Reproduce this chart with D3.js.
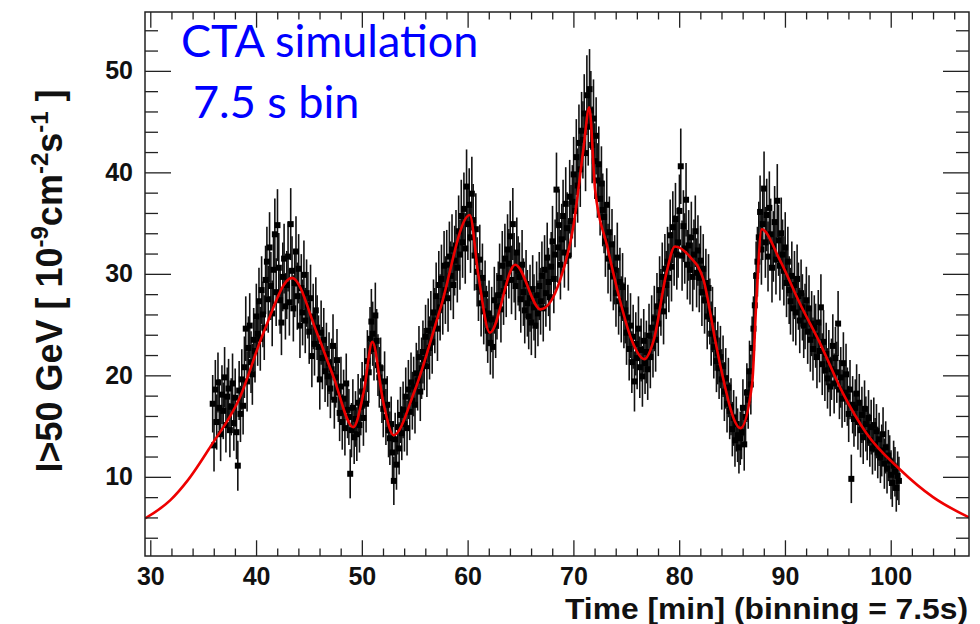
<!DOCTYPE html>
<html><head><meta charset="utf-8">
<script src="https://cdn.jsdelivr.net/npm/d3@7/dist/d3.min.js"></script>
<style>
  body { margin: 0; background: #fff; }
  svg { display: block; }
</style></head>
<body>
<svg id="chart" width="980" height="624"></svg>
<script>
// ---- light curve: integral flux above 50 GeV, one value per 7.5 s bin ----
const binMinutes = 7.5 / 60;
const firstBinTime = 35.9;
const flux = [
  17.2, 13.1, 18.6, 15.4, 19.3, 16.8, 14.2, 18.1,
  16.5, 19.8, 15.1, 17.9, 18.7, 14.6, 16.9, 19.2,
  15.3, 17.8, 14.4, 11.1, 18.5, 16.2, 19.6, 17.0,
  20.8, 24.6, 19.4, 22.7, 24.9, 21.3, 20.1, 23.5,
  22.4, 25.8, 24.1, 27.3, 23.6, 28.4, 26.0, 24.7,
  29.4, 31.2, 27.5, 32.6, 28.8, 26.1, 30.4, 33.9,
  28.2, 34.8, 30.6, 27.4, 25.2, 29.7, 31.5, 26.8,
  28.9, 31.7, 27.2, 34.9, 30.3, 26.6, 29.1, 32.2,
  27.8, 30.5, 24.9, 28.6, 26.2, 29.9, 25.4, 28.1,
  26.9, 24.3, 27.6, 21.9, 25.8, 23.1, 26.4, 24.7,
  22.8, 19.6, 24.2, 21.7, 23.5, 20.4, 22.1, 19.9,
  21.2, 18.7, 20.6, 22.9, 17.6, 19.8, 21.5, 18.3,
  16.3, 18.9, 15.4, 17.7, 14.8, 19.2, 16.6, 15.9,
  10.3, 14.6, 16.8, 13.9, 15.7, 14.2, 17.3, 15.1,
  16.9, 18.4, 15.8, 19.7, 17.2, 21.4, 20.3, 23.6,
  25.3, 24.1, 22.6, 25.9, 23.4, 21.0, 19.8, 20.7,
  18.2, 16.7, 19.4, 15.9, 17.1, 14.6, 13.8, 15.2,
  12.4,  9.6, 13.7, 11.2, 14.9, 12.8, 16.1, 14.3,
  16.6, 15.2, 17.9, 14.8, 18.6, 16.4, 19.3, 17.5,
  18.9, 17.1, 20.2, 19.5, 21.8, 18.4, 20.7, 22.3,
  21.6, 23.8, 20.9, 24.4, 22.7, 25.1, 23.3, 26.2,
  25.4, 27.8, 24.6, 28.9, 26.7, 29.5, 27.3, 30.8,
  28.4, 30.9, 27.6, 31.7, 29.8, 32.4, 28.9, 31.3,
  32.8, 30.6, 34.2, 31.9, 35.7, 33.1, 36.4, 32.5,
  38.6, 34.9, 36.8, 33.6, 37.9, 35.3, 31.8, 34.4,
  30.2, 28.7, 31.4, 27.1, 29.6, 26.3, 28.0, 25.6,
  24.4, 26.1, 23.2, 25.5, 22.8, 27.4, 24.9, 26.8,
  27.9, 29.6, 26.5, 30.8, 28.3, 31.5, 29.1, 32.4,
  31.0, 33.7, 29.4, 34.9, 30.6, 28.8, 32.1, 30.3,
  29.7, 27.5, 30.9, 28.2, 26.4, 29.0, 27.1, 25.8,
  27.6, 25.2, 28.5, 26.7, 24.9, 27.9, 26.1, 28.8,
  27.3, 29.8, 26.6, 30.4, 28.1, 31.6, 29.2, 27.7,
  30.7, 33.2, 29.5, 31.9, 38.3, 32.6, 34.8, 30.9,
  33.4, 35.7, 32.1, 36.9, 34.5, 31.8, 37.6, 35.2,
  37.1, 39.8, 36.2, 41.5, 38.7, 42.9, 40.3, 44.1,
  43.2, 45.8, 41.9, 47.6, 44.5, 48.2, 46.1, 42.7,
  45.3, 41.1, 43.6, 39.2, 40.8, 37.4, 38.9, 36.3,
  35.6, 33.2, 36.8, 31.5, 34.1, 30.7, 32.9, 29.8,
  30.4, 28.1, 31.6, 27.3, 29.2, 26.5, 28.7, 25.9,
  26.4, 24.2, 25.7, 22.6, 24.9, 21.3, 23.8, 19.4,
  23.1, 21.7, 24.6, 20.8, 22.5, 19.9, 23.4, 21.2,
  22.3, 20.6, 23.9, 21.8, 24.7, 22.9, 25.6, 23.5,
  26.8, 25.1, 28.4, 27.2, 29.7, 26.3, 30.5, 28.9,
  31.2, 29.6, 33.8, 30.7, 34.6, 32.3, 35.4, 31.9,
  33.1, 36.2, 40.6, 31.8, 34.7, 32.5, 37.3, 30.9,
  32.8, 30.4, 33.6, 29.7, 31.9, 34.2, 30.1, 32.3,
  29.6, 31.3, 28.2, 30.5, 27.4, 29.1, 25.8, 28.6,
  26.3, 24.1, 25.5, 22.8, 23.6, 21.4, 22.2, 20.7,
  21.8, 19.6, 20.9, 18.4, 19.7, 17.2, 18.8, 16.5,
  16.9, 14.7, 15.8, 13.6, 15.2, 14.1, 12.9, 13.8,
  14.4, 16.8, 13.2, 15.9, 18.3, 17.6, 20.4, 19.1,
  22.7, 24.6, 26.9, 29.8, 31.2, 33.6, 36.1, 32.4,
  34.9, 38.4, 33.1, 35.8, 31.7, 36.5, 33.9, 30.6,
  32.7, 35.1, 31.4, 37.2, 33.3, 30.8, 34.0, 31.9,
  30.3, 32.6, 29.1, 31.2, 28.4, 27.3, 29.8, 26.6,
  28.9, 26.2, 29.5, 27.8, 25.4, 28.1, 26.7, 24.9,
  25.8, 27.4, 24.3, 26.6, 23.5, 25.1, 22.6, 24.7,
  23.9, 21.8, 25.2, 22.4, 26.7, 21.1, 23.3, 20.5,
  22.1, 19.7, 21.4, 18.9, 20.6, 22.9, 19.2, 21.7,
  20.3, 25.1, 18.6, 19.8, 17.7, 21.2, 18.3, 20.1,
  17.9, 16.2, 18.6,  9.8, 17.1, 15.7, 16.8, 18.2,
  15.4, 17.3, 14.6, 16.1, 13.9, 16.7, 15.2, 14.3,
  15.8, 13.6, 14.9, 12.8, 15.1, 13.2, 14.5, 12.4,
  13.7, 11.9, 12.6, 14.2, 11.3, 12.9, 10.8, 12.1,
  11.6, 10.2,  9.4, 11.1, 10.5,  8.9, 10.1,  9.6
];

// statistical error half-width versus flux level
const errFluxLevel  = [10, 20, 30, 40, 50];
const errHalfWidth  = [2.4, 3.0, 3.4, 3.7, 4.0];

// fitted flare model (red line), sampled at its turning points
const modelTime = [29.5, 31.9, 33.5, 35.7, 38.5, 40.7, 43.4, 45.75, 47.3, 49.2, 50.2, 51.0, 52.0, 53.0, 55.0, 57.4,
                   60.2, 61.0, 62.1, 64.5, 66.9, 68.75, 70.0, 70.95, 71.5, 72.05, 73.2, 74.4, 75.5, 76.7, 77.6,
                   78.8, 79.6, 81.0, 82.3, 83.4, 83.9, 85.8, 86.9, 87.3, 87.8, 89.5, 91.4, 93.3, 95.5, 97.7,
                   100.9, 104.0, 107.4];
const modelFlux = [5.9, 7.7, 9.6, 13.0, 17.9, 24.2, 29.6, 24.2, 19.9, 14.9, 18.5, 23.3, 17.5, 14.1, 18.5, 26.5,
                   35.8, 30.0, 24.2, 30.9, 26.5, 29.4, 34.7, 42.3, 46.4, 38.3, 32.7, 27.4, 23.5, 21.6, 23.5,
                   30.1, 32.7, 31.7, 29.4, 23.5, 20.9, 14.8, 19.2, 27.4, 34.4, 31.4, 27.1, 23.2, 18.2, 14.3,
                   10.7, 8.0, 6.0];

// axes
const xDomain = [29.5, 107.4];
const yDomain = [2.2, 55.8];
const xMajorTicks = [30, 40, 50, 60, 70, 80, 90, 100];
const xMinorTicks = d3.range(30, 108, 2).filter(v => v % 10 !== 0);
const yMajorTicks = [10, 20, 30, 40, 50];
const yMinorTicks = d3.range(4, 56, 2).filter(v => v % 10 !== 0);

const xTitle = "Time [min] (binning = 7.5s)";
const noteLines = ["CTA simulation", "7.5 s bin"];

// ---- layout ----
const frame = { left: 145, right: 969, top: 12, bottom: 556 };
const svg = d3.select("#chart");
svg.append("rect").attr("width", 980).attr("height", 624).attr("fill", "#fff");

const x = d3.scaleLinear().domain(xDomain).range([frame.left, frame.right]);
const y = d3.scaleLinear().domain(yDomain).range([frame.bottom, frame.top]);
const errScale = d3.scaleLinear().domain(errFluxLevel).range(errHalfWidth);

const points = flux.map((v, i) => ({ t: firstBinTime + i * binMinutes, v, e: errScale(v) }));

svg.append("defs").append("clipPath").attr("id", "plotClip")
  .append("rect").attr("x", frame.left).attr("y", frame.top)
  .attr("width", frame.right - frame.left).attr("height", frame.bottom - frame.top);

const plot = svg.append("g").attr("clip-path", "url(#plotClip)");

// error bars
plot.append("g").selectAll("line").data(points).join("line")
  .attr("x1", d => x(d.t)).attr("x2", d => x(d.t))
  .attr("y1", d => y(d.v - d.e)).attr("y2", d => y(d.v + d.e))
  .attr("stroke", "#111").attr("stroke-width", 1.6);

// markers
const ms = 6;
plot.append("g").selectAll("rect").data(points).join("rect")
  .attr("x", d => x(d.t) - ms / 2).attr("y", d => y(d.v) - ms / 2)
  .attr("width", ms).attr("height", ms).attr("fill", "#000");

// model curve
const model = modelTime.map((t, i) => ({ t, v: modelFlux[i] }));
plot.append("path").datum(model)
  .attr("d", d3.line().x(d => x(d.t)).y(d => y(d.v)).curve(d3.curveMonotoneX))
  .attr("fill", "none").attr("stroke", "#ee0000").attr("stroke-width", 2.6)
  .attr("stroke-linejoin", "round");

// ---- axes, ticks on all four sides pointing inwards ----
const axisColor = "#222";
const labelFont = "'Liberation Sans', Arial, Helvetica, sans-serif";
function styleAxis(g) {
  g.select(".domain").remove();
  g.selectAll(".tick line").attr("stroke", axisColor).attr("stroke-width", 1.3);
  g.attr("font-family", labelFont).attr("font-size", 25).attr("font-weight", "bold");
  g.selectAll(".tick text").attr("fill", "#111");
}
const xMajLen = 15.7, xMinLen = 7.5, yMajLen = 26, yMinLen = 13;

svg.append("g").attr("transform", `translate(0,${frame.bottom})`)
  .call(d3.axisBottom(x).tickValues(xMajorTicks).tickSize(-xMajLen).tickPadding(11).tickFormat(d3.format("d")))
  .call(styleAxis);
svg.append("g").attr("transform", `translate(0,${frame.bottom})`)
  .call(d3.axisBottom(x).tickValues(xMinorTicks).tickSize(-xMinLen).tickFormat(""))
  .call(styleAxis);
svg.append("g").attr("transform", `translate(0,${frame.top})`)
  .call(d3.axisTop(x).tickValues(xMajorTicks).tickSize(-xMajLen).tickFormat(""))
  .call(styleAxis);
svg.append("g").attr("transform", `translate(0,${frame.top})`)
  .call(d3.axisTop(x).tickValues(xMinorTicks).tickSize(-xMinLen).tickFormat(""))
  .call(styleAxis);

svg.append("g").attr("transform", `translate(${frame.left},0)`)
  .call(d3.axisLeft(y).tickValues(yMajorTicks).tickSize(-yMajLen).tickPadding(12).tickFormat(d3.format("d")))
  .call(styleAxis);
svg.append("g").attr("transform", `translate(${frame.left},0)`)
  .call(d3.axisLeft(y).tickValues(yMinorTicks).tickSize(-yMinLen).tickFormat(""))
  .call(styleAxis);
svg.append("g").attr("transform", `translate(${frame.right},0)`)
  .call(d3.axisRight(y).tickValues(yMajorTicks).tickSize(-yMajLen).tickFormat(""))
  .call(styleAxis);
svg.append("g").attr("transform", `translate(${frame.right},0)`)
  .call(d3.axisRight(y).tickValues(yMinorTicks).tickSize(-yMinLen).tickFormat(""))
  .call(styleAxis);

// frame
svg.append("rect")
  .attr("x", frame.left).attr("y", frame.top)
  .attr("width", frame.right - frame.left).attr("height", frame.bottom - frame.top)
  .attr("fill", "none").attr("stroke", axisColor).attr("stroke-width", 1.5);

// ---- titles ----
svg.append("text")
  .attr("x", 968).attr("y", 619).attr("text-anchor", "end")
  .attr("font-family", labelFont).attr("font-size", 30).attr("font-weight", "bold").attr("fill", "#111")
  .attr("textLength", 403).attr("lengthAdjust", "spacingAndGlyphs")
  .text(xTitle);

const yt = svg.append("text")
  .attr("transform", "translate(62,281) rotate(-90)")
  .attr("text-anchor", "middle")
  .attr("font-family", labelFont).attr("font-size", 36).attr("font-weight", "bold").attr("fill", "#111");
yt.append("tspan").text("I>50 GeV [ 10");
yt.append("tspan").attr("font-size", 24).attr("dy", -14).text("-9");
yt.append("tspan").attr("dy", 14).text("cm");
yt.append("tspan").attr("font-size", 24).attr("dy", -14).text("-2");
yt.append("tspan").attr("dy", 14).text("s");
yt.append("tspan").attr("font-size", 24).attr("dy", -14).text("-1");
yt.append("tspan").attr("dy", 14).text(" ]");

// ---- annotation ----
const noteFont = "Lato, 'Open Sans', sans-serif";
svg.append("text").attr("x", 181).attr("y", 57)
  .attr("font-family", noteFont).attr("font-size", 45).attr("fill", "#0000ff")
  .text(noteLines[0]);
svg.append("text").attr("x", 193).attr("y", 118)
  .attr("font-family", noteFont).attr("font-size", 45).attr("fill", "#0000ff")
  .text(noteLines[1]);
</script>
</body></html>
